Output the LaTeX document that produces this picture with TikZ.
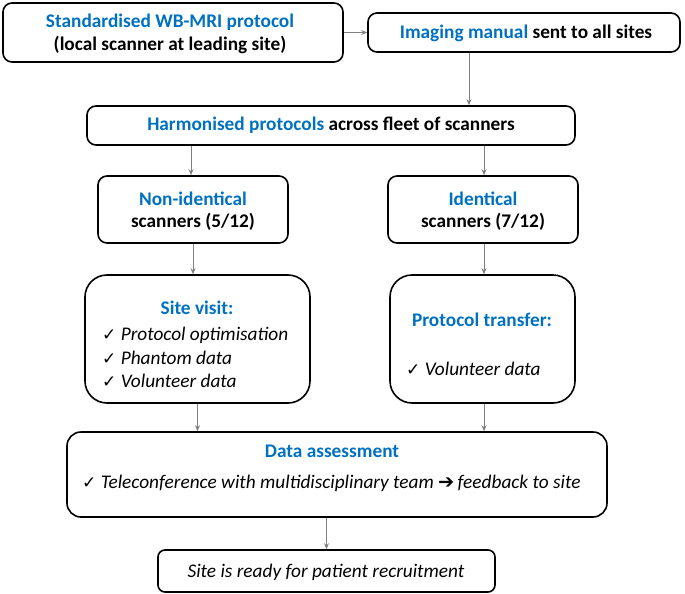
\documentclass[tikz,border=0pt]{standalone}
\usepackage{fontspec}
\setmainfont{Carlito}
\newfontfamily\symfont{DejaVu Sans}
\usetikzlibrary{arrows.meta}
\definecolor{hblue}{RGB}{0,112,192}
\definecolor{agray}{RGB}{128,128,128}
\newcommand{\ck}{{\symfont\fontsize{17}{19}\selectfont ✓}}
\begin{document}
\begin{tikzpicture}[x=1pt,y=-1pt,
  box/.style={draw=black,line width=1.6pt,rounded corners=#1,inner sep=0pt},
  box/.default=9pt,
  txt/.style={inner sep=0pt,font=\fontsize{19.3}{23}\selectfont},
  btxt/.style={inner sep=0pt,font=\fontsize{19.3}{23}\selectfont\bfseries},
  conn/.style={draw=agray,line width=1pt,-{Stealth[length=6pt,width=5pt]}},
  bl/.style={text=hblue}]
\useasboundingbox (0,0) rectangle (685,594);
% boxes
\node[box, minimum width=340pt, minimum height=59pt] (b1) at (173,32.5) {};
\node[box, minimum width=312pt, minimum height=39pt] (b2) at (524,32.5) {};
\node[box, minimum width=488pt, minimum height=39pt] (b3) at (331,125.5) {};
\node[box, minimum width=190pt, minimum height=67pt] (b4) at (193,209.5) {};
\node[box, minimum width=190pt, minimum height=67pt] (b5) at (483,209.5) {};
\node[box=22pt, minimum width=225pt, minimum height=128pt] (b6) at (197.5,339) {};
\node[box=22pt, minimum width=185pt, minimum height=128pt] (b7) at (482.5,339) {};
\node[box=14pt, minimum width=540pt, minimum height=85pt] (b8) at (337,474.5) {};
\node[box=7pt, minimum width=337pt, minimum height=42pt] (b9) at (326.5,571) {};
% texts
\node[btxt,bl] (t1a) at (170,22) {Standardised WB-MRI protocol};
\node[btxt] (t1b) at (170,45) {(local scanner at leading site)};
\node[btxt] (t2) at (526,33) {\textcolor{hblue}{Imaging manual} sent to all sites};
\node[btxt] (t3) at (331,125) {\textcolor{hblue}{Harmonised protocols} across fleet of scanners};
\node[btxt,bl] (t4a) at (193,199) {Non-identical};
\node[btxt] (t4b) at (193,222) {scanners (5/12)};
\node[btxt,bl] (t5a) at (483,199) {Identical};
\node[btxt] (t5b) at (483,222) {scanners (7/12)};
\node[btxt,bl] (t6) at (197,308) {Site visit:};
\node[txt,anchor=west] (t6a) at (102,335) {\ck\ \textit{Protocol optimisation}};
\node[txt,anchor=west] (t6b) at (102,358) {\ck\ \textit{Phantom data}};
\node[txt,anchor=west] (t6c) at (102,381) {\ck\ \textit{Volunteer data}};
\node[btxt,bl] (t7) at (482,320) {Protocol transfer:};
\node[txt,anchor=west] (t7a) at (406,369) {\ck\ \textit{Volunteer data}};
\node[btxt,bl] (t8) at (332,451) {Data assessment};
\node[txt,anchor=west] (t8a) at (82,483) {\ck\ \textit{Teleconference with multidisciplinary team} {\symfont\bfseries ➔}\,\textit{feedback to site}};
\node[txt] (t9) at (326,572) {\textit{Site is ready for patient recruitment}};
% connectors
\coordinate (c2) at (469,0);
\coordinate (c3l) at (191,0);
\coordinate (c4) at (193,0);
\coordinate (c3r) at (484,0);
\draw[conn,line width=1.6pt] (b1.east) -- (b2.west);
\draw[conn] (b2.south -| c2) -- (b3.north -| c2);
\draw[conn] (b3.south -| c3l) -- (b4.north -| c3l);
\draw[conn] (b3.south -| c3r) -- (b5.north -| c3r);
\draw[conn] (b4.south -| c4) -- (b6.north -| c4);
\draw[conn] (b5.south -| c3r) -- (b7.north -| c3r);
\draw[conn] (b6.south) -- (b8.north -| b6.south);
\draw[conn] (b7.south -| c3r) -- (b8.north -| c3r);
\draw[conn] (b8.south -| b9.north) -- (b9.north);
\end{tikzpicture}
\end{document}
